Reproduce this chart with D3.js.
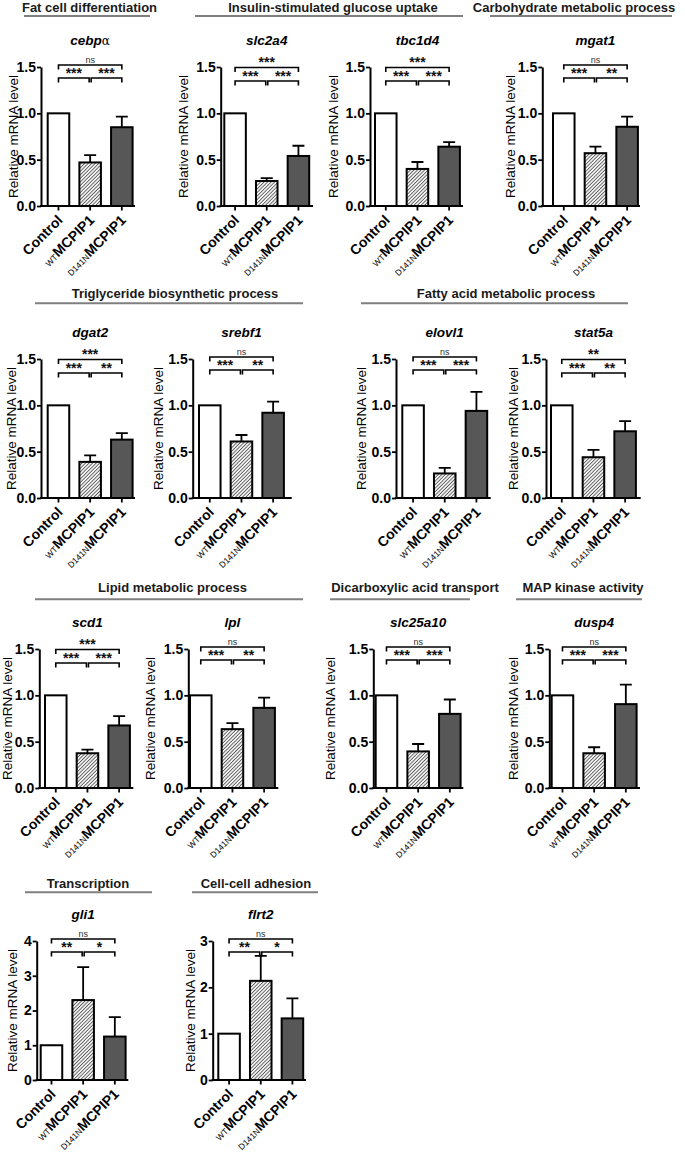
<html>
<head>
<meta charset="utf-8">
<script src="https://d3js.org/d3.v7.min.js"></script>
<style>
  body { margin: 0; background: #fff; }
  text { font-family: "Liberation Sans", Arial, sans-serif; }
</style>
</head>
<body>
<script>
// --- values ---
var genes = ["cebpα", "slc2a4", "tbc1d4", "mgat1", "dgat2", "srebf1", "elovl1",
  "stat5a", "scd1", "lpl", "slc25a10", "dusp4", "gli1", "flrt2"];
var groups = ["Control", "WT", "D141N"];
var groupPrefix = ["", "WT", "D141N"];
var groupName = ["Control", "MCPIP1", "MCPIP1"];

var controlMean = [1, 1, 1, 1, 1, 1, 1, 1, 1, 1, 1, 1, 1, 1];
var wtMean = [0.47, 0.27, 0.40, 0.57, 0.39, 0.61, 0.265, 0.44, 0.375, 0.635, 0.395, 0.375, 2.30, 2.14];
var wtSem = [0.08, 0.03, 0.075, 0.07, 0.07, 0.07, 0.06, 0.08, 0.04, 0.065, 0.08, 0.065, 0.95, 0.54];
var mutMean = [0.85, 0.54, 0.64, 0.855, 0.63, 0.92, 0.94, 0.72, 0.675, 0.865, 0.80, 0.905, 1.25, 1.33];
var mutSem = [0.115, 0.11, 0.05, 0.11, 0.07, 0.12, 0.205, 0.11, 0.10, 0.11, 0.155, 0.21, 0.56, 0.43];

var sigCtrlMut = ["ns", "***", "***", "ns", "***", "ns", "ns", "**", "***", "ns", "ns", "ns", "ns", "ns"];
var sigCtrlWt = ["***", "***", "***", "***", "***", "***", "***", "***", "***", "***", "***", "***", "**", "**"];
var sigWtMut = ["***", "***", "***", "**", "**", "**", "***", "**", "***", "**", "***", "***", "*", "*"];

var yMax = [1.5, 1.5, 1.5, 1.5, 1.5, 1.5, 1.5, 1.5, 1.5, 1.5, 1.5, 1.5, 4, 3];
var ticksSmall = [0, 0.5, 1.0, 1.5];

var sectionTitles = ["Fat cell differentiation", "Insulin-stimulated glucose uptake",
  "Carbohydrate metabolic process", "Triglyceride biosynthetic process",
  "Fatty acid metabolic process", "Lipid metabolic process",
  "Dicarboxylic acid transport", "MAP kinase activity",
  "Transcription", "Cell-cell adhesion"];

// --- layout ---
var rowTop = [67, 359, 649, 941];
var plotH = 139;
var rowTitleY = [11.5, 298.3, 592.3, 888.3];
var rowLineY = [16, 303.3, 599.3, 892.3];

var sectionPos = [
  { row: 0, tx: 89.5, x1: 24, x2: 150 },
  { row: 0, tx: 333, x1: 195, x2: 463 },
  { row: 0, tx: 574, x1: 490, x2: 672 },
  { row: 1, tx: 175, x1: 35, x2: 303 },
  { row: 1, tx: 506, x1: 361, x2: 628 },
  { row: 2, tx: 172.5, x1: 35, x2: 303 },
  { row: 2, tx: 415, x1: 330, x2: 470 },
  { row: 2, tx: 583, x1: 516, x2: 642 },
  { row: 3, tx: 88, x1: 25, x2: 152 },
  { row: 3, tx: 256, x1: 192, x2: 318 }
];

// axis x, first bar x, axis end, y-label centre
var panelPos = [
  { row: 0, ax: 41, bar0: 47.7, end: 135, lab: 13.3 },
  { row: 0, ax: 220.7, bar0: 224.3, end: 313, lab: 183.3 },
  { row: 0, ax: 370, bar0: 375, end: 463, lab: 333.3 },
  { row: 0, ax: 542.3, bar0: 553, end: 640, lab: 510 },
  { row: 1, ax: 41, bar0: 47.7, end: 135, lab: 11.7 },
  { row: 1, ax: 192.7, bar0: 199, end: 291.7, lab: 158.3 },
  { row: 1, ax: 396, bar0: 402.3, end: 490.7, lab: 361.7 },
  { row: 1, ax: 546, bar0: 551, end: 640.7, lab: 513.3 },
  { row: 2, ax: 39.3, bar0: 45, end: 133.3, lab: 7.3 },
  { row: 2, ax: 188.3, bar0: 190, end: 278.3, lab: 150 },
  { row: 2, ax: 373.3, bar0: 375.7, end: 463.3, lab: 330 },
  { row: 2, ax: 549.3, bar0: 551.7, end: 640, lab: 513.3 },
  { row: 3, ax: 36.7, bar0: 40.7, end: 128.3, lab: 12.7 },
  { row: 3, ax: 212.7, bar0: 218.3, end: 306, lab: 190 }
];

var fills = ["#ffffff", "url(#hatch)", "#575757"];

var svg = d3.select("body").append("svg")
  .attr("width", 685)
  .attr("height", 1152)
  .style("background", "#fff");

var pat = svg.append("defs").append("pattern")
  .attr("id", "hatch")
  .attr("patternUnits", "userSpaceOnUse")
  .attr("width", 2.5).attr("height", 2.5)
  .attr("patternTransform", "rotate(45)");
pat.append("rect").attr("width", 2.5).attr("height", 2.5).attr("fill", "#f2f2f2");
pat.append("line").attr("x1", 0).attr("y1", 0).attr("x2", 0).attr("y2", 2.5)
  .attr("stroke", "#1a1a1a").attr("stroke-width", 1.2);

// section headers
sectionTitles.forEach(function (t, i) {
  var s = sectionPos[i];
  svg.append("text")
    .attr("x", s.tx).attr("y", rowTitleY[s.row])
    .attr("text-anchor", "middle")
    .attr("font-size", 13).attr("font-weight", "bold")
    .attr("fill", "#1a1a1a")
    .text(t);
  svg.append("line")
    .attr("x1", s.x1).attr("x2", s.x2)
    .attr("y1", rowLineY[s.row]).attr("y2", rowLineY[s.row])
    .attr("stroke", "#7f7f7f").attr("stroke-width", 2);
});

genes.forEach(function (gene, i) {
  var p = panelPos[i];
  var top = rowTop[p.row], y0 = top + plotH;
  var g = svg.append("g");

  var y = d3.scaleLinear().domain([0, yMax[i]]).range([y0, top]);
  var x = d3.scaleBand().domain(groups).range([p.bar0, p.bar0 + 84.9]).paddingInner(0.32);
  var bw = x.bandwidth();

  var vals = [
    { k: "Control", m: controlMean[i], e: 0 },
    { k: "WT", m: wtMean[i], e: wtSem[i] },
    { k: "D141N", m: mutMean[i], e: mutSem[i] }
  ];

  // error bars (upper only)
  vals.filter(function (d) { return d.e > 0; }).forEach(function (d) {
    var cx = x(d.k) + bw / 2;
    g.append("path")
      .attr("d", "M" + cx + "," + y(d.m) + "V" + y(d.m + d.e) +
        "M" + (cx - 6) + "," + y(d.m + d.e) + "H" + (cx + 6))
      .attr("stroke", "#000").attr("stroke-width", 1.8).attr("fill", "none");
  });

  g.selectAll("rect.bar").data(vals).join("rect")
    .attr("class", "bar")
    .attr("x", function (d) { return x(d.k); })
    .attr("y", function (d) { return y(d.m); })
    .attr("width", bw)
    .attr("height", function (d) { return y0 - y(d.m); })
    .attr("fill", function (d, j) { return fills[j]; })
    .attr("stroke", "#000").attr("stroke-width", 2);

  // y axis
  var small = yMax[i] <= 1.5;
  var yAx = g.append("g")
    .attr("transform", "translate(" + p.ax + ",0)")
    .call(d3.axisLeft(y)
      .tickValues(small ? ticksSmall : d3.range(0, yMax[i] + 1))
      .tickFormat(small ? d3.format(".1f") : d3.format("d"))
      .tickSize(4).tickSizeOuter(0).tickPadding(1));
  yAx.attr("font-family", null).attr("font-size", null);
  yAx.select(".domain").attr("stroke-width", 2);
  yAx.selectAll(".tick line").attr("stroke-width", 1.8);
  yAx.selectAll(".tick text").attr("font-size", 14).attr("font-weight", "bold").attr("fill", "#000");

  // x axis
  g.append("line")
    .attr("x1", p.ax - 1).attr("x2", p.end)
    .attr("y1", y0).attr("y2", y0)
    .attr("stroke", "#000").attr("stroke-width", 2);
  var xAx = g.append("g")
    .attr("transform", "translate(0," + y0 + ")")
    .call(d3.axisBottom(x).tickSize(4.5).tickFormat(""));
  xAx.select(".domain").remove();
  xAx.selectAll(".tick line").attr("stroke-width", 1.8);

  xAx.selectAll(".tick").each(function (k, j) {
    var t = d3.select(this).append("text")
      .attr("transform", "translate(5,15) rotate(-45)")
      .attr("text-anchor", "end")
      .attr("fill", "#000");
    if (groupPrefix[j]) {
      t.append("tspan").attr("font-size", 8.5).attr("font-weight", "normal").text(groupPrefix[j]);
    }
    t.append("tspan").attr("font-size", 14).attr("font-weight", "bold").text(groupName[j]);
  });

  // y label
  g.append("text")
    .attr("transform", "translate(" + p.lab + "," + (top + plotH / 2) + ") rotate(-90)")
    .attr("dy", "0.35em")
    .attr("text-anchor", "middle")
    .attr("font-size", 13.5)
    .text("Relative mRNA level");

  // gene title
  var cmid = p.bar0 + 84.9 / 2;
  var gt = g.append("text")
    .attr("x", cmid).attr("y", top - 22.5)
    .attr("text-anchor", "middle")
    .attr("font-size", 13.5);
  if (/α$/.test(gene)) {
    gt.append("tspan").attr("font-weight", "bold").attr("font-style", "italic").text(gene.slice(0, -1));
    gt.append("tspan").attr("font-family", "DejaVu Serif").attr("font-size", 12).text("α");
  } else {
    gt.attr("font-weight", "bold").attr("font-style", "italic").text(gene);
  }

  // significance brackets
  var c = groups.map(function (k) { return x(k) + bw / 2; });
  var isNs = sigCtrlMut[i] === "ns";
  var tY = top + (isNs ? -2 : 0.5), lY = top + (isNs ? 11 : 14), tk = 4.5;
  function bracket(a, b, yy, lab) {
    g.append("path")
      .attr("d", "M" + a + "," + (yy + tk) + "V" + yy + "H" + b + "V" + (yy + tk))
      .attr("fill", "none").attr("stroke", "#000").attr("stroke-width", 1.6);
    var tx = g.append("text")
      .attr("x", (a + b) / 2)
      .attr("text-anchor", "middle")
      .text(lab);
    if (lab === "ns") {
      tx.attr("y", yy - 2.5).attr("font-size", 9).attr("fill", "#333");
    } else {
      tx.attr("y", yy - 0.5).attr("font-size", 14).attr("font-weight", "bold").attr("fill", "#111");
    }
  }
  bracket(c[0], c[2], tY, sigCtrlMut[i]);
  bracket(c[0], c[1] - 1, lY, sigCtrlWt[i]);
  bracket(c[1] + 1, c[2], lY, sigWtMut[i]);
});
</script>
</body>
</html>
